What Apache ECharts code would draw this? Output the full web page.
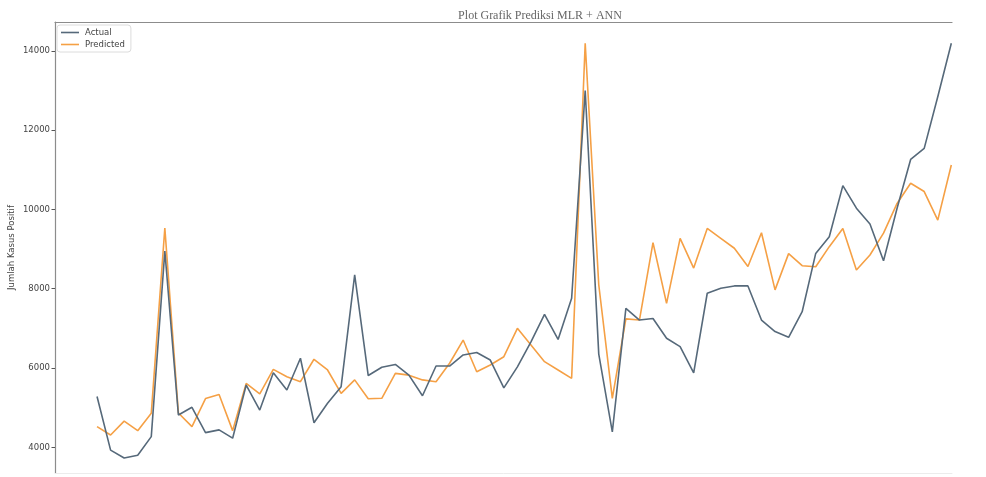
<!DOCTYPE html>
<html>
<head>
<meta charset="utf-8">
<script src="https://cdn.jsdelivr.net/npm/echarts@6/dist/echarts.min.js"></script>
<style>
  html, body { margin: 0; padding: 0; background: #fff; }
  #chart { width: 986px; height: 477px; }
</style>
</head>
<body>
<div id="chart"></div>
<script>
// Daily positive cases: observed values and MLR + ANN model output
const actual = [
  5280, 3930, 3730, 3800, 4270, 8950, 4815, 5010, 4370, 4440,
  4230, 5570, 4940, 5880, 5445, 6245, 4620, 5110, 5530, 8350,
  5810, 6020, 6090, 5820, 5300, 6050, 6050, 6330, 6390, 6200,
  5500, 6030, 6660, 7350, 6720, 7760, 13000, 6350, 4390, 7505,
  7210, 7250, 6750, 6540, 5880, 7885, 8010, 8070, 8070, 7210,
  6920, 6775, 7420, 8890, 9310, 10600, 10030, 9630, 8705, 10030,
  11260, 11540, 12840, 14190
];
const predicted = [
  4520, 4310, 4660, 4420, 4860, 9530, 4865, 4520, 5230, 5330,
  4420, 5610, 5345, 5965, 5780, 5655, 6220, 5950, 5360, 5700,
  5225, 5236, 5865, 5820, 5700, 5655, 6120, 6705, 5905, 6075,
  6285, 7000, 6580, 6160, 5950, 5740, 14190, 8100, 5236, 7240,
  7210, 9160, 7630, 9270, 8520, 9520, 9270, 9020, 8560, 9410,
  7970, 8885, 8580, 8555, 9060, 9520, 8470, 8850, 9400, 10150,
  10660, 10450, 9730, 11120
];
const yTicks = [4000, 6000, 8000, 10000, 12000, 14000];
const seriesNames = ['Actual', 'Predicted'];

const toPairs = arr => arr.map((v, i) => [i, v]);

const chart = echarts.init(document.getElementById('chart'), null, { renderer: 'canvas' });

chart.setOption({
  animation: false,
  backgroundColor: '#ffffff',
  title: {
    text: 'Plot Grafik Prediksi MLR + ANN',
    left: 535,
    textAlign: 'center',
    top: 5,
    textStyle: {
      fontFamily: 'Liberation Serif',
      fontWeight: 'normal',
      fontSize: 12,
      color: '#666'
    }
  },
  legend: {
    orient: 'vertical',
    left: 57,
    top: 25,
    data: seriesNames,
    icon: 'rect',
    itemWidth: 18,
    itemHeight: 1.6,
    itemGap: 3,
    padding: [3, 6, 3, 4],
    backgroundColor: '#fff',
    borderColor: '#dcdcdc',
    borderWidth: 1,
    borderRadius: 3,
    textStyle: { fontFamily: 'DejaVu Sans', fontSize: 8.5, color: '#444', padding: [0, 0, 0, 1] }
  },
  grid: { left: 55, right: 34, top: 22, bottom: 4, containLabel: false, outerBoundsMode: 'none' },
  xAxis: [
    {
      type: 'value',
      min: -3.1,
      max: 63.05,
      position: 'bottom',
      axisLine: { show: true, lineStyle: { color: '#ececec', width: 1 } },
      axisTick: { show: false },
      axisLabel: { show: false },
      splitLine: { show: false }
    },
    {
      type: 'value',
      min: -3.1,
      max: 63.05,
      position: 'top',
      axisLine: { show: true, onZero: false, lineStyle: { color: '#8c8c8c', width: 1.2 } },
      axisTick: { show: false },
      axisLabel: { show: false },
      splitLine: { show: false }
    }
  ],
  yAxis: {
    type: 'value',
    min: 3352,
    max: 14726,
    name: 'Jumlah Kasus Positif',
    nameLocation: 'middle',
    nameRotate: 90,
    nameGap: 39,
    nameMoveOverlap: false,
    nameTextStyle: { fontFamily: 'DejaVu Sans', fontSize: 8.5, color: '#444' },
    axisLine: { show: true, onZero: false, lineStyle: { color: '#8c8c8c', width: 1.2 } },
    axisTick: { show: true, length: 3.5, customValues: yTicks, lineStyle: { color: '#555' } },
    axisLabel: {
      customValues: yTicks,
      formatter: v => String(v),
      fontFamily: 'DejaVu Sans',
      fontSize: 8.5,
      color: '#444',
      margin: 5
    },
    splitLine: { show: false }
  },
  series: [
    {
      name: 'Predicted',
      type: 'line',
      xAxisIndex: 0,
      data: toPairs(predicted),
      symbol: 'none',
      z: 2,
      lineStyle: { color: '#f5a045', width: 1.6 },
      itemStyle: { color: '#f5a045' }
    },
    {
      name: 'Actual',
      type: 'line',
      xAxisIndex: 0,
      data: toPairs(actual),
      symbol: 'none',
      z: 3,
      lineStyle: { color: '#56697a', width: 1.6 },
      itemStyle: { color: '#56697a' }
    }
  ]
});
</script>
</body>
</html>
